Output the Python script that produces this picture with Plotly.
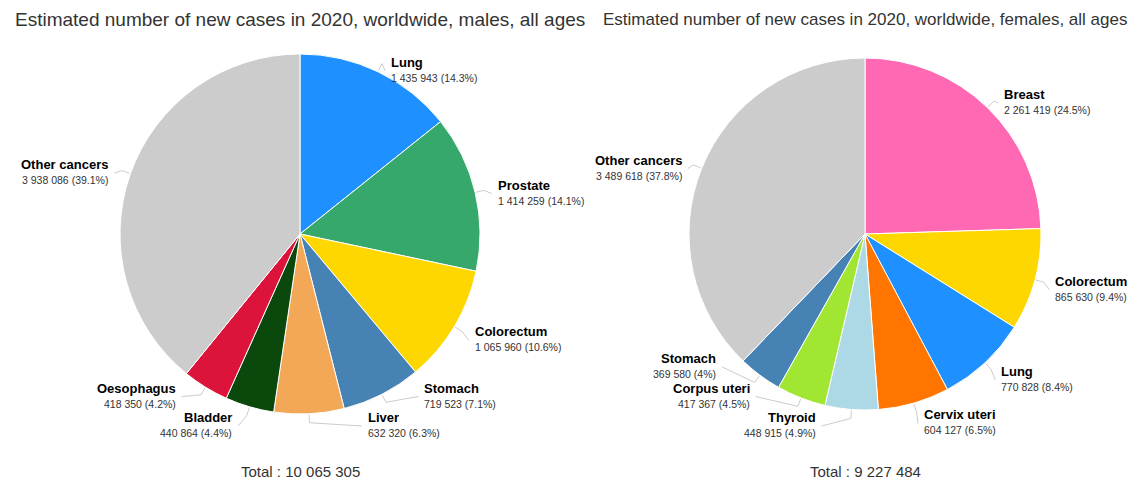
import math
import plotly.graph_objects as go

W, H = 1141, 482

# ---------------- data ----------------
male_labels = ["Lung", "Prostate", "Colorectum", "Stomach", "Liver", "Bladder", "Oesophagus", "Other cancers"]
male_values = [1435943, 1414259, 1065960, 719523, 632320, 440864, 418350, 3938086]
male_colors = ["#1e90ff", "#36a86c", "#ffd700", "#4682b4", "#f2a857", "#0a480c", "#dc143c", "#cccccc"]

female_labels = ["Breast", "Colorectum", "Lung", "Cervix uteri", "Thyroid", "Corpus uteri", "Stomach", "Other cancers"]
female_values = [2261419, 865630, 770828, 604127, 448915, 417367, 369580, 3489618]
female_colors = ["#ff69b4", "#ffd700", "#1e90ff", "#ff7500", "#add8e6", "#a0e632", "#4682b4", "#cccccc"]

titles = [
    "Estimated number of new cases in 2020, worldwide, males, all ages",
    "Estimated number of new cases in 2020, worldwide, females, all ages",
]

FONT = "Liberation Sans, Arial, sans-serif"


def fmt(v):
    return f"{v:,}".replace(",", " ")


def pct(v, t):
    s = f"{round(v / t * 100, 1):.1f}"
    return s[:-2] if s.endswith(".0") else s


# layout geometry of each pie (pixels)
pies = [
    dict(labels=male_labels, values=male_values, colors=male_colors, title=titles[0], tsize=19,
         cx=300, cy=234, r=180, dist=17, top=71, bottom=426, gap=29.5, k=5),
    dict(labels=female_labels, values=female_values, colors=female_colors, title=titles[1], tsize=17,
         cx=865, cy=234, r=176, dist=15, top=71, bottom=426, gap=29.5, k=6),
]

fig = go.Figure()
annotations = []
shapes = []


def px2paper(x, y):
    return x / W, 1 - y / H


def distribute(items, top, bottom, gap):
    items.sort(key=lambda d: d["ny"])
    n = len(items)
    ys = [d["ny"] for d in items]
    for i in range(n):
        lo = top if i == 0 else ys[i - 1] + gap
        ys[i] = max(ys[i], lo)
    for i in range(n - 1, -1, -1):
        hi = bottom if i == n - 1 else ys[i + 1] - gap
        ys[i] = min(ys[i], hi)
    for i in range(n):
        lo = top if i == 0 else ys[i - 1] + gap
        ys[i] = max(ys[i], lo)
    for d, y in zip(items, ys):
        d["y"] = y


for p in pies:
    cx, cy, r, k = p["cx"], p["cy"], p["r"], p["k"]
    x0, y1 = px2paper(cx - r, cy - r)
    x1, y0 = px2paper(cx + r, cy + r)
    fig.add_trace(go.Pie(
        labels=p["labels"], values=p["values"],
        marker=dict(colors=p["colors"], line=dict(color="#ffffff", width=1)),
        sort=False, direction="clockwise", rotation=0,
        textinfo="none", showlegend=False,
        domain=dict(x=[x0, x1], y=[y0, y1]),
        hovertemplate="%{label}: %{value}<extra></extra>",
    ))

    total = sum(p["values"])
    R = r + p["dist"]
    cum = 0
    left, right = [], []
    for lab, val in zip(p["labels"], p["values"]):
        mid = (cum + val / 2) / total * 2 * math.pi
        cum += val
        d = dict(label=lab, val=val, ang=mid,
                 ny=cy - R * math.cos(mid) + k)
        (right if math.sin(mid) >= 0 else left).append(d)
    for side, sgn in ((right, 1), (left, -1)):
        distribute(side, p["top"], p["bottom"], p["gap"])
        for d in side:
            if abs(d["y"] - p["top"]) < 1:
                dx = abs(R * math.sin(d["ang"]))
            else:
                dx = math.sqrt(max(0.0, R * R - (d["y"] - k - cy) ** 2))
            lx = cx + sgn * dx
            ly = d["y"]
            tx = lx + sgn * 5
            xa = "left" if sgn > 0 else "right"
            ax, ay = px2paper(tx, ly)
            annotations.append(dict(
                x=ax, y=ay, xref="paper", yref="paper", xanchor=xa, yanchor="bottom",
                text=f"<b>{d['label']}</b>", showarrow=False, align="left",
                font=dict(family=FONT, size=13, color="#000000"), borderpad=0,
            ))
            annotations.append(dict(
                x=ax, y=ay, xref="paper", yref="paper", xanchor=xa, yanchor="top",
                text=f"{fmt(d['val'])} ({pct(d['val'], total)}%)", showarrow=False, align="left",
                font=dict(family=FONT, size=10.5, color="#333333"), borderpad=0,
            ))
            # connector
            a = d["ang"]
            ex, ey = cx + (r + 1) * math.sin(a), cy - (r + 1) * math.cos(a)
            bx, by = cx + (r + 9) * math.sin(a), cy - (r + 9) * math.cos(a)
            pe = px2paper(ex, ey)
            pb = px2paper(bx, by)
            pl = px2paper(lx, ly)
            shapes.append(dict(
                type="path", xref="paper", yref="paper",
                path=f"M {pe[0]},{pe[1]} L {pb[0]},{pb[1]} L {pl[0]},{pl[1]}",
                line=dict(color="#cccccc", width=1),
            ))

    tx_, ty_ = px2paper(cx, 20)
    annotations.append(dict(
        x=tx_, y=ty_, xref="paper", yref="paper", xanchor="center", yanchor="middle",
        text=p["title"], showarrow=False,
        font=dict(family=FONT, size=p["tsize"], color="#333333"),
    ))
    bx_, by_ = px2paper(cx, 471)
    annotations.append(dict(
        x=bx_, y=by_, xref="paper", yref="paper", xanchor="center", yanchor="middle",
        text=f"Total : {fmt(total)}", showarrow=False,
        font=dict(family=FONT, size=15, color="#333333"),
    ))

fig.update_layout(
    width=W, height=H,
    margin=dict(l=0, r=0, t=0, b=0),
    paper_bgcolor="#ffffff", plot_bgcolor="#ffffff",
    annotations=annotations, shapes=shapes,
    font=dict(family=FONT),
)

fig.write_html("out.html")
